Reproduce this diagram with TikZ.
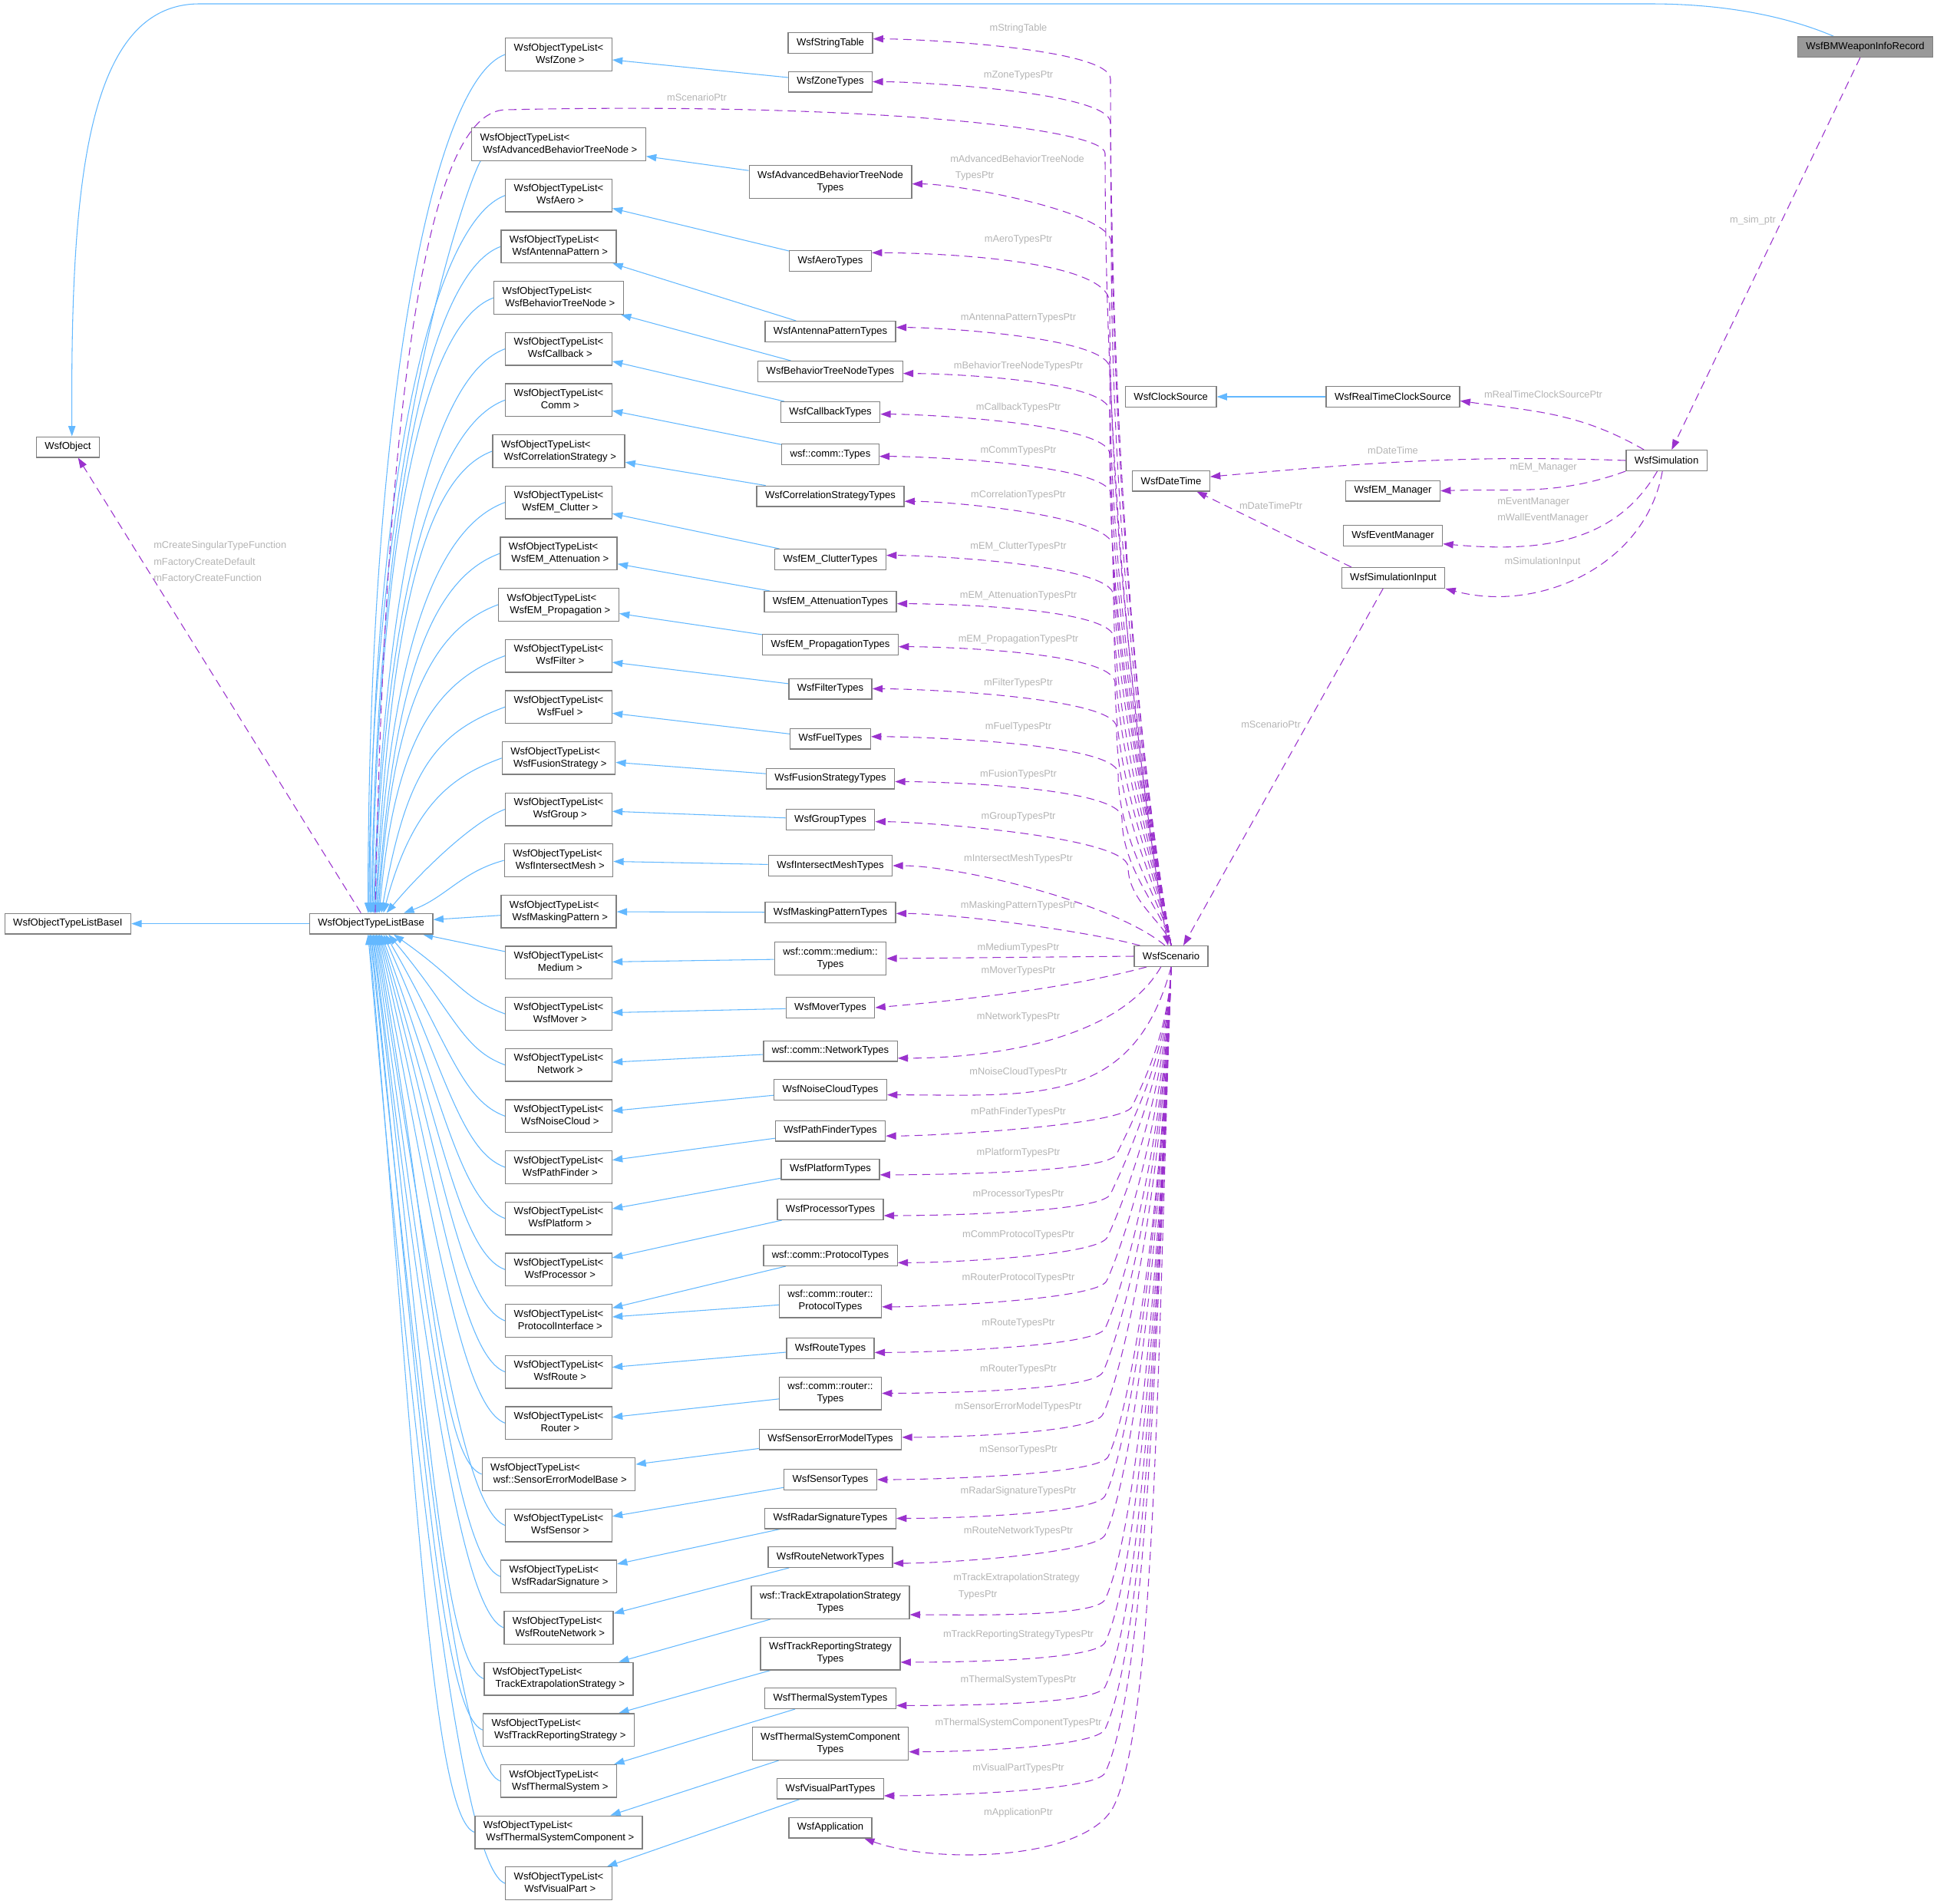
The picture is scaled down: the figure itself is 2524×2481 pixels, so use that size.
\documentclass[tikz,border=0pt]{standalone}
\usepackage{fontspec}
\setmainfont{Liberation Sans}
\usetikzlibrary{arrows.meta,backgrounds}

\definecolor{boxgrey}{HTML}{808080}
\definecolor{maingrey}{HTML}{999999}
\definecolor{inhblue}{HTML}{63B8FF}
\definecolor{relpurple}{HTML}{9A32CD}
\definecolor{lblgrey}{HTML}{B4B4B4}

\newcommand{\otl}[1]{\begin{tabular}{@{}c@{}}WsfObjectTypeList<\hfill\mbox{}\\\ #1\end{tabular}}
\newcommand{\twol}[2]{\begin{tabular}{@{}c@{}}#1\\#2\end{tabular}}

\begin{document}
\begin{tikzpicture}[x=0.75pt, y=0.75pt,
    box/.style = {draw=boxgrey, line width=1pt, fill=white, inner xsep=8.2pt, inner ysep=4pt, minimum height=20pt, font=\fontsize{9.8}{12}\selectfont},
    mainbox/.style = {box, fill=maingrey},
    lbl/.style = {text=lblgrey, inner sep=0pt, font=\fontsize{9.6}{16}\selectfont},
    inh/.style = {draw=inhblue, line width=0.8pt, -{Triangle[length=10pt, width=7pt]}},
    rel/.style = {draw=relpurple, line width=0.8pt, dash pattern=on 8pt off 5pt, -{Triangle[length=10pt, width=7pt]}},
    upleg/.style = {out=100, in=-90, out looseness=0.6, in looseness=1},
    upfoot/.style = {out=90, in=0, out distance=30pt, in distance=45pt},
    lowleg/.style = {out=-92, in=65, out looseness=1.2, in looseness=0.3},
    lowfoot/.style = {out=-115, in=0, out distance=20pt, in distance=50pt},
    upbase/.style = {out=200, out distance=75pt, in looseness=1.5},
    lowbase/.style = {out=160, out distance=45pt, in looseness=1.5}]

    \useasboundingbox (0,0) rectangle (2524,-2481);

    % left column
    \node[box] (wobj) at (88.4,-582.5) {WsfObject};
    \node[box] (basei) at (88.4,-1203.6) {WsfObjectTypeListBaseI};
    \node[box] (base) at (483.6,-1203.6) {WsfObjectTypeListBase};

    %--------------------------------------------

    \node[box] (lzone) at (728,-71) {\otl{WsfZone >}};
    \node[box] (ladv) at (728,-188) {\otl{WsfAdvancedBehaviorTreeNode >}};
    \node[box] (laero) at (728,-254.7) {\otl{WsfAero >}};
    \node[box] (lant) at (728,-321.3) {\otl{WsfAntennaPattern >}};
    \node[box] (lbtn) at (728,-388) {\otl{WsfBehaviorTreeNode >}};
    \node[box] (lcb) at (728,-454.6) {\otl{WsfCallback >}};
    \node[box] (lcomm) at (728,-521.3) {\otl{Comm >}};
    \node[box] (lcorr) at (728,-587.9) {\otl{WsfCorrelationStrategy >}};
    \node[box] (lclut) at (728,-654.6) {\otl{WsfEM\_Clutter >}};
    \node[box] (latt) at (728,-721.2) {\otl{WsfEM\_Attenuation >}};
    \node[box] (lprop) at (728,-787.9) {\otl{WsfEM\_Propagation >}};
    \node[box] (lfilt) at (728,-854.5) {\otl{WsfFilter >}};
    \node[box] (lfuel) at (728,-921.2) {\otl{WsfFuel >}};
    \node[box] (lfus) at (728,-987.8) {\otl{WsfFusionStrategy >}};
    \node[box] (lgrp) at (728,-1054.5) {\otl{WsfGroup >}};
    \node[box] (lmesh) at (728,-1121.1) {\otl{WsfIntersectMesh >}};
    \node[box] (lmask) at (728,-1187.8) {\otl{WsfMaskingPattern >}};
    \node[box] (lmed) at (728,-1254.4) {\otl{Medium >}};
    \node[box] (lmov) at (728,-1321.1) {\otl{WsfMover >}};
    \node[box] (lnet) at (728,-1387.7) {\otl{Network >}};
    \node[box] (lnoise) at (728,-1454.4) {\otl{WsfNoiseCloud >}};
    \node[box] (lpath) at (728,-1521) {\otl{WsfPathFinder >}};
    \node[box] (lplat) at (728,-1587.7) {\otl{WsfPlatform >}};
    \node[box] (lproc) at (728,-1654.3) {\otl{WsfProcessor >}};
    \node[box] (lprot) at (728,-1721) {\otl{ProtocolInterface >}};
    \node[box] (lroute) at (728,-1787.6) {\otl{WsfRoute >}};
    \node[box] (lrouter) at (728,-1854.3) {\otl{Router >}};
    \node[box] (lsem) at (728,-1920.9) {\otl{wsf::SensorErrorModelBase >}};
    \node[box] (lsens) at (728,-1987.6) {\otl{WsfSensor >}};
    \node[box] (lradar) at (728,-2054.2) {\otl{WsfRadarSignature >}};
    \node[box] (lrnet) at (728,-2120.9) {\otl{WsfRouteNetwork >}};
    \node[box] (ltex) at (728,-2187.5) {\otl{TrackExtrapolationStrategy >}};
    \node[box] (ltrep) at (728,-2254.2) {\otl{WsfTrackReportingStrategy >}};
    \node[box] (ltherm) at (728,-2320.8) {\otl{WsfThermalSystem >}};
    \node[box] (ltcomp) at (728,-2387.5) {\otl{WsfThermalSystemComponent >}};
    \node[box] (lvis) at (728,-2454.1) {\otl{WsfVisualPart >}};

    %--------------------------------------------

    \node[box] (tstr) at (1082,-56) {WsfStringTable};
    \node[box] (tzone) at (1082,-106.5) {WsfZoneTypes};
    \node[box] (tadv) at (1082,-237) {\twol{WsfAdvancedBehaviorTreeNode}{Types}};
    \node[box] (taero) at (1082,-340) {WsfAeroTypes};
    \node[box] (tant) at (1082,-432) {WsfAntennaPatternTypes};
    \node[box] (tbtn) at (1082,-484) {WsfBehaviorTreeNodeTypes};
    \node[box] (tcb) at (1082,-537) {WsfCallbackTypes};
    \node[box] (tcomm) at (1082,-592) {wsf::comm::Types};
    \node[box] (tcorr) at (1082,-646.6) {WsfCorrelationStrategyTypes};
    \node[box] (tclut) at (1082,-729) {WsfEM\_ClutterTypes};
    \node[box] (tatt) at (1082,-784) {WsfEM\_AttenuationTypes};
    \node[box] (tprop) at (1082,-840) {WsfEM\_PropagationTypes};
    \node[box] (tfilt) at (1082,-897.5) {WsfFilterTypes};
    \node[box] (tfuel) at (1082,-962.5) {WsfFuelTypes};
    \node[box] (tfus) at (1082,-1014.5) {WsfFusionStrategyTypes};
    \node[box] (tgrp) at (1082,-1068) {WsfGroupTypes};
    \node[box] (tmesh) at (1082,-1128) {WsfIntersectMeshTypes};
    \node[box] (tmask) at (1082,-1189) {WsfMaskingPatternTypes};
    \node[box] (tmed) at (1082,-1249) {\twol{wsf::comm::medium::}{Types}};
    \node[box] (tmov) at (1082,-1313) {WsfMoverTypes};
    \node[box] (tnet) at (1082,-1369.5) {wsf::comm::NetworkTypes};
    \node[box] (tnoise) at (1082,-1420) {WsfNoiseCloudTypes};
    \node[box] (tpath) at (1082,-1473.5) {WsfPathFinderTypes};
    \node[box] (tplat) at (1082,-1523.5) {WsfPlatformTypes};
    \node[box] (tproc) at (1082,-1576) {WsfProcessorTypes};
    \node[box] (tprot) at (1082,-1636) {wsf::comm::ProtocolTypes};
    \node[box] (trprot) at (1082,-1695.5) {\twol{wsf::comm::router::}{ProtocolTypes}};
    \node[box] (troute) at (1082,-1757) {WsfRouteTypes};
    \node[box] (trouter) at (1082,-1815.5) {\twol{wsf::comm::router::}{Types}};
    \node[box] (tsem) at (1082,-1875.5) {WsfSensorErrorModelTypes};
    \node[box] (tsens) at (1082,-1928) {WsfSensorTypes};
    \node[box] (tradar) at (1082,-1978.5) {WsfRadarSignatureTypes};
    \node[box] (trnet) at (1082,-2029) {WsfRouteNetworkTypes};
    \node[box] (ttex) at (1082,-2088) {\twol{wsf::TrackExtrapolationStrategy}{Types}};
    \node[box] (ttrep) at (1082,-2154.6) {\twol{WsfTrackReportingStrategy}{Types}};
    \node[box] (ttherm) at (1082,-2213) {WsfThermalSystemTypes};
    \node[box] (ttcomp) at (1082,-2272) {\twol{WsfThermalSystemComponent}{Types}};
    \node[box] (tvis) at (1082,-2330.6) {WsfVisualPartTypes};
    \node[box] (tapp) at (1082,-2381.5) {WsfApplication};

    %--------------------------------------------

    \node[box] (scen) at (1526,-1246) {WsfScenario};
    \node[box] (clk) at (1525.7,-517) {WsfClockSource};
    \node[box] (dt) at (1526,-626.5) {WsfDateTime};
    \node[box] (rtc) at (1815,-517) {WsfRealTimeClockSource};
    \node[box] (em) at (1815,-639.6) {WsfEM\_Manager};
    \node[box] (evm) at (1815,-698) {WsfEventManager};
    \node[box] (simi) at (1815.5,-753) {WsfSimulationInput};
    \node[box] (sim) at (2171.5,-600) {WsfSimulation};
    \node[mainbox] (rec) at (2430.5,-61.2) {WsfBMWeaponInfoRecord};

    %--------------------------------------------

    \node[lbl] (nstr) at (1327,-37.6) {mStringTable};
    \node[lbl] (nzone) at (1327,-98.8) {mZoneTypesPtr};
    \node[lbl] (nscen) at (908,-127) {mScenarioPtr};
    \node[lbl, align=left, anchor=west] (nadv) at (1238,-218.9) {mAdvancedBehaviorTreeNode\\\hspace*{5pt}TypesPtr};
    \node[lbl] (naero) at (1327,-312.4) {mAeroTypesPtr};
    \node[lbl] (nant) at (1327,-414.4) {mAntennaPatternTypesPtr};
    \node[lbl] (nbtn) at (1327,-477.2) {mBehaviorTreeNodeTypesPtr};
    \node[lbl] (ncb) at (1327,-531.4) {mCallbackTypesPtr};
    \node[lbl] (ncomm) at (1327,-587.2) {mCommTypesPtr};
    \node[lbl] (ncorr) at (1327,-645.6) {mCorrelationTypesPtr};
    \node[lbl] (nclut) at (1327,-712.3) {mEM\_ClutterTypesPtr};
    \node[lbl] (natt) at (1327,-776.6) {mEM\_AttenuationTypesPtr};
    \node[lbl] (nprop) at (1327,-833.4) {mEM\_PropagationTypesPtr};
    \node[lbl] (nfilt) at (1327,-890.6) {mFilterTypesPtr};
    \node[lbl] (nfuel) at (1327,-947.4) {mFuelTypesPtr};
    \node[lbl] (nfus) at (1327,-1009.5) {mFusionTypesPtr};
    \node[lbl] (ngrp) at (1327,-1064) {mGroupTypesPtr};
    \node[lbl] (nmesh) at (1327,-1119) {mIntersectMeshTypesPtr};
    \node[lbl] (nmask) at (1327,-1180.3) {mMaskingPatternTypesPtr};
    \node[lbl] (nmed) at (1327,-1235) {mMediumTypesPtr};
    \node[lbl] (nmov) at (1327,-1265.3) {mMoverTypesPtr};
    \node[lbl] (nnet) at (1327,-1325.4) {mNetworkTypesPtr};
    \node[lbl] (nnoise) at (1327,-1397.5) {mNoiseCloudTypesPtr};
    \node[lbl] (npath) at (1327,-1449.3) {mPathFinderTypesPtr};
    \node[lbl] (nplat) at (1327,-1502.4) {mPlatformTypesPtr};
    \node[lbl] (nproc) at (1327,-1556.3) {mProcessorTypesPtr};
    \node[lbl] (nprot) at (1327,-1609) {mCommProtocolTypesPtr};
    \node[lbl] (nrprot) at (1327,-1665.3) {mRouterProtocolTypesPtr};
    \node[lbl] (nroute) at (1327,-1724) {mRouteTypesPtr};
    \node[lbl] (nrouter) at (1327,-1784) {mRouterTypesPtr};
    \node[lbl] (nsem) at (1327,-1833.6) {mSensorErrorModelTypesPtr};
    \node[lbl] (nsens) at (1327,-1889.5) {mSensorTypesPtr};
    \node[lbl] (nradar) at (1327,-1942.9) {mRadarSignatureTypesPtr};
    \node[lbl] (nrnet) at (1327,-1994.7) {mRouteNetworkTypesPtr};
    \node[lbl, align=left, anchor=west] (ntex) at (1242,-2067.2) {mTrackExtrapolationStrategy\\\hspace*{5pt}TypesPtr};
    \node[lbl] (ntrep) at (1327,-2130) {mTrackReportingStrategyTypesPtr};
    \node[lbl] (ntherm) at (1327,-2188.8) {mThermalSystemTypesPtr};
    \node[lbl] (ntcomp) at (1327,-2245) {mThermalSystemComponentTypesPtr};
    \node[lbl] (nvis) at (1327,-2304.5) {mVisualPartTypesPtr};
    \node[lbl] (napp) at (1327,-2362.6) {mApplicationPtr};
    \node[lbl] (nsim) at (2284,-287) {m\_sim\_ptr};
    \node[lbl] (nrtc) at (2011,-514) {mRealTimeClockSourcePtr};
    \node[lbl] (ndt) at (1815,-586.5) {mDateTime};
    \node[lbl] (nem) at (2011,-609.5) {mEM\_Manager};
    \node[lbl, align=left, anchor=west] (nevm) at (1951,-665) {mEventManager\\mWallEventManager};
    \node[lbl] (ndtp) at (1656,-659) {mDateTimePtr};
    \node[lbl] (nsimi) at (2010,-732) {mSimulationInput};
    \node[lbl] (nscen2) at (1656,-944) {mScenarioPtr};
    \node[lbl, align=left, anchor=west] (nfact) at (200,-733) {mCreateSingularTypeFunction\\mFactoryCreateDefault\\mFactoryCreateFunction};

    \begin{scope}[on background layer]
    % inheritance
    \draw[inh] ([xshift=-31pt]rec.north) .. controls (2330,-22) and (2250,-5) .. (2150,-5) -- (260,-5) .. controls (110,-5) and (92,-250) .. ([xshift=4pt]wobj.north);
    \draw[inh] (base) -- (basei);
    \draw[inh] (rtc) -- (clk);

    \draw[inh] (tzone) -- (lzone);
    \draw[inh] (tadv) -- (ladv);
    \draw[inh] (taero) -- (laero);
    \draw[inh] (tant) -- (lant);
    \draw[inh] (tbtn) -- (lbtn);
    \draw[inh] (tcb) -- (lcb);
    \draw[inh] (tcomm) -- (lcomm);
    \draw[inh] (tcorr) -- (lcorr);
    \draw[inh] (tclut) -- (lclut);
    \draw[inh] (tatt) -- (latt);
    \draw[inh] (tprop) -- (lprop);
    \draw[inh] (tfilt) -- (lfilt);
    \draw[inh] (tfuel) -- (lfuel);
    \draw[inh] (tfus) -- (lfus);
    \draw[inh] (tgrp) -- (lgrp);
    \draw[inh] (tmesh) -- (lmesh);
    \draw[inh] (tmask) -- (lmask);
    \draw[inh] (tmed) -- (lmed);
    \draw[inh] (tmov) -- (lmov);
    \draw[inh] (tnet) -- (lnet);
    \draw[inh] (tnoise) -- (lnoise);
    \draw[inh] (tpath) -- (lpath);
    \draw[inh] (tplat) -- (lplat);
    \draw[inh] (tproc) -- (lproc);
    \draw[inh] (tprot) -- (lprot);
    \draw[inh] (trprot) -- (lprot);
    \draw[inh] (troute) -- (lroute);
    \draw[inh] (trouter) -- (lrouter);
    \draw[inh] (tsem) -- (lsem);
    \draw[inh] (tsens) -- (lsens);
    \draw[inh] (tradar) -- (lradar);
    \draw[inh] (trnet) -- (lrnet);
    \draw[inh] (ttex) -- (ltex);
    \draw[inh] (ttrep) -- (ltrep);
    \draw[inh] (ttherm) -- (ltherm);
    \draw[inh] (ttcomp) -- (ltcomp);
    \draw[inh] (tvis) -- (lvis);

    \draw[inh] (lzone.west) to[upbase, in=90] ([xshift=-3pt]base.north);
    \draw[inh] ([xshift=9pt]ladv.south west) to[upbase, out=240, out distance=30pt, in=90] ([xshift=-2pt]base.north);
    \draw[inh] (laero.west) to[upbase, in=90] ([xshift=-1pt]base.north);
    \draw[inh] (lant.west) to[upbase, in=89] (base.north);
    \draw[inh] (lbtn.west) to[upbase, in=89] ([xshift=1pt]base.north);
    \draw[inh] (lcb.west) to[upbase, in=88] ([xshift=2pt]base.north);
    \draw[inh] (lcomm.west) to[upbase, in=88] ([xshift=3pt]base.north);
    \draw[inh] (lcorr.west) to[upbase, in=87] ([xshift=4pt]base.north);
    \draw[inh] (lclut.west) to[upbase, in=87] ([xshift=5pt]base.north);
    \draw[inh] (latt.west) to[upbase, in=86] ([xshift=6pt]base.north);
    \draw[inh] (lprop.west) to[upbase, in=86] ([xshift=7pt]base.north);
    \draw[inh] (lfilt.west) to[upbase, in=85] ([xshift=8pt]base.north);
    \draw[inh] (lfuel.west) to[upbase, in=80] ([xshift=10pt]base.north);
    \draw[inh] (lfus.west) to[upbase, out distance=50pt, in=75] ([xshift=12pt]base.north);
    \draw[inh] (lgrp.west) to[upbase, out distance=30pt, in=50, in looseness=1] ([xshift=15pt]base.north);
    \draw[inh] (lmesh.west) to[out=195, in=20] ([xshift=32pt]base.north);
    \draw[inh] (lmask) -- (base);
    \draw[inh] (lmed) -- (base);
    \draw[inh] (lmov.west) to[lowbase, in=-35] ([xshift=22pt]base.south);
    \draw[inh] (lnet.west) to[lowbase, in=-50] ([xshift=17pt]base.south);
    \draw[inh] (lnoise.west) to[lowbase, in=-60] ([xshift=14pt]base.south);
    \draw[inh] (lpath.west) to[lowbase, in=-66] ([xshift=12pt]base.south);
    \draw[inh] (lplat.west) to[lowbase, in=-70] ([xshift=10pt]base.south);
    \draw[inh] (lproc.west) to[lowbase, in=-73] ([xshift=9pt]base.south);
    \draw[inh] (lprot.west) to[lowbase, in=-75] ([xshift=8pt]base.south);
    \draw[inh] (lroute.west) to[lowbase, in=-77] ([xshift=7pt]base.south);
    \draw[inh] (lrouter.west) to[lowbase, in=-79] ([xshift=6pt]base.south);
    \draw[inh] (lsem.west) to[lowbase, in=-80] ([xshift=5pt]base.south);
    \draw[inh] (lsens.west) to[lowbase, in=-81] ([xshift=4pt]base.south);
    \draw[inh] (lradar.west) to[lowbase, in=-82] ([xshift=3pt]base.south);
    \draw[inh] (lrnet.west) to[lowbase, in=-83] ([xshift=2pt]base.south);
    \draw[inh] (ltex.west) to[lowbase, in=-83] ([xshift=1pt]base.south);
    \draw[inh] (ltrep.west) to[lowbase, in=-84] (base.south);
    \draw[inh] (ltherm.west) to[lowbase, in=-84] ([xshift=-1pt]base.south);
    \draw[inh] (ltcomp.west) to[lowbase, in=-85] ([xshift=-2pt]base.south);
    \draw[inh] (lvis.west) to[lowbase, in=-85] ([xshift=-3pt]base.south);

    % members
    \draw[rel] (rec) -- (sim);
    \draw[rel] ([xshift=-22pt]sim.north) to[out=150, in=-8] ([yshift=-4pt]rtc.east);
    \draw[rel] (sim.west) to[out=178, in=5] ([yshift=4pt]dt.east);
    \draw[rel] (sim.south west) to[out=200, in=2] (em.east);
    \draw[rel] ([xshift=-9pt]sim.south) to[out=-120, in=-5] ([yshift=-8pt]evm.east);
    \draw[rel] ([xshift=-4pt]sim.south) to[out=-100, in=-15] (simi.south east);
    \draw[rel] ([xshift=10pt]simi.north west) -- ([xshift=25pt]dt.south);
    \draw[rel] ([xshift=-10pt]simi.south) -- ([xshift=12pt]scen.north);
    \draw[rel] ([xshift=-10pt]base.north) -- ([xshift=10pt]wobj.south);
    \draw[rel] ([xshift=4pt]base.north) .. controls (500,-600) and (545,-142) .. (660,-143) .. controls (1100,-133) and (1440,-165) .. (1440,-200) to[out=-90, in=100, out looseness=1, in looseness=0.6] ([xshift=-3pt]scen.north);

    \draw[rel] (scen.north) to[upleg] (1447,-103) to[upfoot] ([yshift=4pt]tstr.east);
    \draw[rel] (scen.north) to[upleg] (1447,-160) to[upfoot] (tzone.east);
    \draw[rel] (scen.north) to[upleg] (1448,-316) to[upfoot] ([yshift=-2pt]tadv.east);
    \draw[rel] (scen.north) to[upleg] (1446,-395) to[upfoot, out distance=45pt] ([yshift=8pt]taero.east);
    \draw[rel] (scen.north) to[upleg] (1446,-480) to[upfoot] ([yshift=4pt]tant.east);
    \draw[rel] (scen.north) to[upleg] (1446,-536) to[upfoot] ([yshift=-2pt]tbtn.east);
    \draw[rel] (scen.north) to[upleg] (1446,-592) to[upfoot] ([yshift=-2pt]tcb.east);
    \draw[rel] (scen.north) to[upleg] (1448,-645) to[upfoot] ([yshift=-2pt]tcomm.east);
    \draw[rel] (scen.north) to[upleg] (1450,-712) to[upfoot] ([yshift=-5pt]tcorr.east);
    \draw[rel] (scen.north) to[upleg] (1451,-776) to[upfoot] ([yshift=4pt]tclut.east);
    \draw[rel] (scen.north) to[upleg] (1452,-832) to[upfoot] ([yshift=-2pt]tatt.east);
    \draw[rel] (scen.north) to[upleg] (1453,-890) to[upfoot] ([yshift=-2pt]tprop.east);
    \draw[rel] (scen.north) to[upleg] (1455,-948) to[upfoot] (tfilt.east);
    \draw[rel] (scen.north) to[upleg] (1457,-1008) to[upfoot] ([yshift=2pt]tfuel.east);
    \draw[rel] (scen.north) to[upleg] (1462,-1066) to[upfoot] ([yshift=-3pt]tfus.east);
    \draw[rel] (scen.north) to[upleg] (1470,-1130) to[upfoot] ([yshift=-2pt]tgrp.east);
    \draw[rel] ([xshift=-6pt]scen.north) to[out=140, in=0, looseness=0.6] (tmesh.east);
    \draw[rel] ([xshift=6pt]scen.north west) to[out=165, in=0, looseness=0.6] ([yshift=-1pt]tmask.east);
    \draw[rel] (scen.west) -- (tmed.east);
    \draw[rel] ([xshift=-24pt]scen.south) to[out=195, in=5, looseness=0.8] (tmov.east);
    \draw[rel] ([xshift=-10pt]scen.south) to[out=240, in=0, looseness=0.8] ([yshift=-7pt]tnet.east);
    \draw[rel] (scen.south) to[out=255, in=0, looseness=1.2] ([yshift=-5pt]tnoise.east);
    \draw[rel] (scen.south) to[lowleg] (1475,-1442) to[lowfoot] ([yshift=-5pt]tpath.east);
    \draw[rel] (scen.south) to[lowleg] (1455,-1504) to[lowfoot] ([yshift=-5.5pt]tplat.east);
    \draw[rel] (scen.south) to[lowleg] (1447,-1556) to[lowfoot] ([yshift=-6pt]tproc.east);
    \draw[rel] (scen.south) to[lowleg] (1443,-1612) to[lowfoot] ([yshift=-7pt]tprot.east);
    \draw[rel] (scen.south) to[lowleg] (1442,-1669) to[lowfoot] ([yshift=-5.5pt]trprot.east);
    \draw[rel] (scen.south) to[lowleg] (1440,-1731) to[lowfoot] ([yshift=-4pt]troute.east);
    \draw[rel] (scen.south) to[lowleg] (1437,-1788) to[lowfoot] (trouter.east);
    \draw[rel] (scen.south) to[lowleg] (1437,-1843) to[lowfoot] ([yshift=2pt]tsem.east);
    \draw[rel] (scen.south) to[lowleg] (1444,-1898) to[lowfoot] (tsens.east);
    \draw[rel] (scen.south) to[lowleg] (1440,-1949) to[lowfoot] (tradar.east);
    \draw[rel] (scen.south) to[lowleg] (1440,-2000) to[lowfoot] ([yshift=-6pt]trnet.east);
    \draw[rel] (scen.south) to[lowleg] (1440,-2084) to[lowfoot] ([yshift=-12pt]ttex.east);
    \draw[rel] (scen.south) to[lowleg] (1440,-2140) to[lowfoot] ([yshift=-8.5pt]ttrep.east);
    \draw[rel] (scen.south) to[lowleg] (1440,-2198) to[lowfoot] ([yshift=-7pt]ttherm.east);
    \draw[rel] (scen.south) to[lowleg] (1440,-2253) to[lowfoot] ([yshift=-8pt]ttcomp.east);
    \draw[rel] (scen.south) to[lowleg] (1440,-2310) to[lowfoot] ([yshift=-7pt]tvis.east);
    \draw[rel] (scen.south) to[lowleg] (1452,-2352) to[out=-115, in=-20, out distance=60pt, in distance=75pt] ([xshift=-8pt]tapp.south east);
    \end{scope}

\end{tikzpicture}
\end{document}
